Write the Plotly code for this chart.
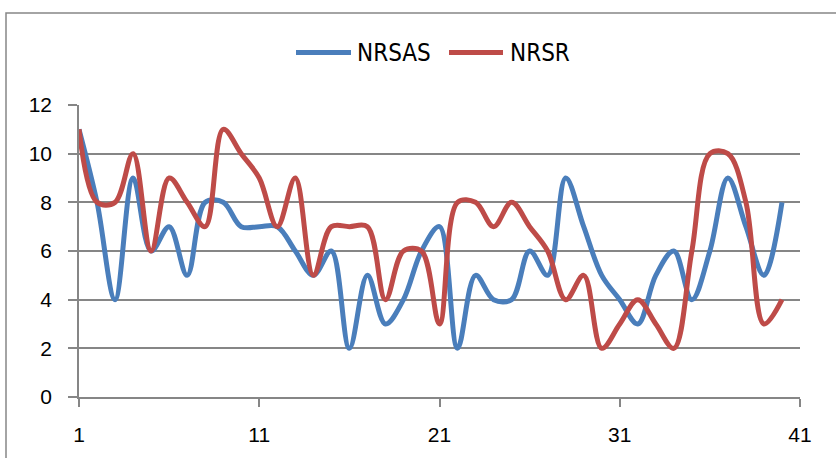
import plotly.graph_objects as go

x_vals = list(range(1, 41))
nrsas = [11, 8, 4, 9, 6, 7, 5, 8, 8, 7, 7, 7, 6, 5, 6, 2, 5, 3, 4, 6,
         7, 2, 5, 4, 4, 6, 5, 9, 7, 5, 4, 3, 5, 6, 4, 6, 9, 7, 5, 8]
nrsr = [11, 8, 8, 10, 6, 9, 8, 7, 11, 10, 9, 7, 9, 5, 7, 7, 7, 4, 6, 6,
        3, 8, 8, 7, 8, 7, 6, 4, 5, 2, 3, 4, 3, 2, 6, 10, 10, 8, 3, 4]
series_names = ["NRSAS", "NRSR"]
colors = ["#4A7EBB", "#BE4B48"]
x_ticks = [1, 11, 21, 31, 41]

W, H = 836, 458
L, R, T, B = 79, 36, 105, 58
pw, ph = W - L - R, H - T - B

def px2paper_x(p):
    return (p - L) / pw

def px2paper_y(p):
    return (H - B - p) / ph

fig = go.Figure()
for name, vals, col in zip(series_names, [nrsas, nrsr], colors):
    fig.add_trace(go.Scatter(x=x_vals, y=vals, mode="lines", name=name,
                             line=dict(color=col, width=5, shape="spline", smoothing=1.0),
                             showlegend=False, hoverinfo="skip"))

grid = "#868686"
fig.update_layout(
    width=W, height=H,
    margin=dict(l=L, r=R, t=T, b=B),
    paper_bgcolor="white", plot_bgcolor="white",
    font=dict(family="Liberation Sans, Arial, sans-serif", size=21, color="black"),
    xaxis=dict(range=[1, 41], tickvals=x_ticks, ticktext=[str(v) for v in x_ticks],
               showgrid=False, zeroline=False, showline=True, linecolor=grid, linewidth=1.5,
               ticks="outside", ticklen=8, tickcolor=grid, tickwidth=1.5,
               ticklabelstandoff=10),
    yaxis=dict(range=[0, 12], dtick=2, showgrid=True, gridcolor=grid, gridwidth=1.5,
               zeroline=False, showline=True, linecolor=grid, linewidth=1.5,
               ticks="outside", ticklen=9, tickcolor=grid, tickwidth=1.5,
               ticklabelstandoff=12),
)

# outer chart border (cropped at right/bottom)
fig.add_shape(type="rect", xref="paper", yref="paper",
              x0=px2paper_x(6), x1=px2paper_x(900), y0=px2paper_y(520), y1=px2paper_y(12),
              line=dict(color=grid, width=1.5), fillcolor="rgba(0,0,0,0)", layer="below")

# custom legend
leg_y = px2paper_y(52)
legend_items = [(296, 351, 355), (449, 503, 508)]
for (x0, x1, tx), name, col in zip(legend_items, series_names, colors):
    fig.add_shape(type="line", xref="paper", yref="paper",
                  x0=px2paper_x(x0), x1=px2paper_x(x1), y0=leg_y, y1=leg_y,
                  line=dict(color=col, width=5))
    fig.add_annotation(xref="paper", yref="paper", x=px2paper_x(tx), y=leg_y,
                       text=name, showarrow=False, xanchor="left", yanchor="middle",
                       font=dict(family="Liberation Sans Narrow, DejaVu Sans Condensed, Liberation Sans",
                                 size=24, color="black"))

fig.write_html("out.html", config={"displayModeBar": False},
               post_script="document.body.style.margin='0';document.body.style.overflow='hidden';")
